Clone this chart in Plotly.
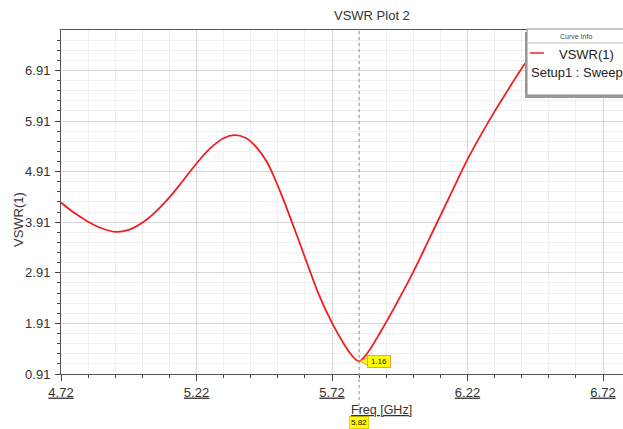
import plotly.graph_objects as go

# ---- data ----
freq_ghz = [4.72, 4.77, 4.82, 4.87, 4.92, 4.97, 5.02, 5.07, 5.12, 5.17, 5.22, 5.27,
            5.32, 5.36, 5.40, 5.44, 5.48, 5.53, 5.58, 5.63, 5.67, 5.72, 5.76, 5.79,
            5.82, 5.85, 5.90, 5.96, 6.02, 6.07, 6.12, 6.17, 6.22, 6.27, 6.32, 6.37,
            6.41, 6.44, 6.50, 6.56]
vswr = [4.30, 4.09, 3.92, 3.79, 3.72, 3.76, 3.90, 4.12, 4.40, 4.73, 5.07, 5.37,
        5.57, 5.63, 5.58, 5.40, 5.10, 4.50, 3.80, 3.07, 2.50, 1.92, 1.54, 1.30,
        1.16, 1.32, 1.75, 2.32, 2.93, 3.48, 4.04, 4.60, 5.15, 5.64, 6.10, 6.53,
        6.87, 7.10, 7.52, 7.90]
x_ticks = [4.72, 5.22, 5.72, 6.22, 6.72]
y_ticks = [0.91, 1.91, 2.91, 3.91, 4.91, 5.91, 6.91]
marker_freq = 5.82
marker_val = 1.16
title_text = "VSWR Plot 2"
x_title = "Freq [GHz]"
y_title = "VSWR(1)"
curve_name = "VSWR(1)"
curve_setup = "Setup1 : Sweep"

# ---- layout geometry (pixels) ----
W, H = 623, 429
L, R, T, B = 61, 623, 30, 374


def px(xp):
    return (xp - L) / (R - L)


def py(yp):
    return (B - yp) / (B - T)


FONT = "Liberation Sans, Arial, sans-serif"
TXT = "#333333"

fig = go.Figure()
fig.add_trace(go.Scatter(
    x=freq_ghz, y=vswr, mode="lines", name=curve_name,
    line=dict(color="#f01e23", width=1.8, shape="spline", smoothing=1.0),
    showlegend=False, hoverinfo="x+y",
))

shapes = []
annotations = []

# marker dashed line
shapes.append(dict(type="line", xref="x", yref="paper", x0=marker_freq, x1=marker_freq,
                   y0=py(418), y1=1, line=dict(color="#909090", width=1, dash="3px,3px")))
# callout tail
shapes.append(dict(type="path", xref="x", yref="y", xsizemode="pixel", ysizemode="pixel",
                   xanchor=marker_freq, yanchor=marker_val,
                   path="M1,0 L9,4 L9,-4 Z", fillcolor="#ffff00",
                   line=dict(color="#f0a040", width=1)))
annotations.append(dict(x=marker_freq, y=marker_val, xref="x", yref="y", xanchor="left",
                        yanchor="middle", xshift=8, showarrow=False,
                        text=str(marker_val), font=dict(family=FONT, size=8, color="#111"),
                        bgcolor="#ffff00", bordercolor="#f0a040", borderwidth=1,
                        borderpad=1, width=20))
annotations.append(dict(x=marker_freq, y=py(422.5), xref="x", yref="paper", xanchor="center",
                        yanchor="middle", showarrow=False, text=str(marker_freq),
                        font=dict(family=FONT, size=8, color="#111"),
                        bgcolor="#ffff00", bordercolor="#e8d000", borderwidth=1, borderpad=1))

# titles
annotations.append(dict(x=px(372), y=py(16), xref="paper", yref="paper", showarrow=False,
                        xanchor="center", yanchor="middle",
                        text=title_text, font=dict(family=FONT, size=13, color=TXT)))
annotations.append(dict(x=px(381), y=py(410), xref="paper", yref="paper", showarrow=False,
                        xanchor="center", yanchor="middle",
                        text="<u>" + x_title + "</u>", font=dict(family=FONT, size=12.5, color=TXT)))
annotations.append(dict(x=px(18), y=py(220), xref="paper", yref="paper", showarrow=False,
                        xanchor="center", yanchor="middle",
                        textangle=-90, text=y_title, font=dict(family=FONT, size=13, color=TXT)))

# curve info box (shadow + box)
shapes.append(dict(type="rect", xref="paper", yref="paper", x0=px(525), x1=px(630),
                   y0=py(98), y1=py(32), fillcolor="#9a9a9a", line=dict(width=0)))
shapes.append(dict(type="rect", xref="paper", yref="paper", x0=px(527), x1=px(628),
                   y0=py(95), y1=py(29), fillcolor="white", line=dict(color="#8a8a8a", width=1)))
shapes.append(dict(type="line", xref="paper", yref="paper", x0=px(527), x1=px(628),
                   y0=py(43), y1=py(43), line=dict(color="#c0c0c0", width=1)))
shapes.append(dict(type="line", xref="paper", yref="paper", x0=px(530), x1=px(544),
                   y0=py(53), y1=py(53), line=dict(color="#f01e23", width=1.5)))
annotations.append(dict(x=px(576), y=py(36.5), xref="paper", yref="paper", showarrow=False,
                        xanchor="center", yanchor="middle",
                        text="Curve Info", font=dict(family=FONT, size=7, color="#444")))
annotations.append(dict(x=px(557), y=py(54), xref="paper", yref="paper", showarrow=False,
                        xanchor="left", yanchor="middle",
                        text=curve_name, font=dict(family=FONT, size=13, color="#222")))
annotations.append(dict(x=px(529), y=py(72), xref="paper", yref="paper", showarrow=False,
                        xanchor="left", yanchor="middle",
                        text=curve_setup, font=dict(family=FONT, size=13, color="#222")))

fig.update_layout(
    width=W, height=H,
    margin=dict(l=L, r=W - R, t=T, b=H - B, pad=0),
    paper_bgcolor="white", plot_bgcolor="white",
    font=dict(family=FONT, size=12, color=TXT),
    shapes=shapes, annotations=annotations,
    showlegend=False,
)
x_end = 4.72 + (R - L) / 271.0
fig.update_xaxes(
    range=[4.72, x_end], tickvals=x_ticks,
    ticktext=["<u>%.2f</u>" % v for v in x_ticks],
    ticks="outside", ticklen=6, tickcolor="#444", tickwidth=1,
    showline=True, linecolor="#555", linewidth=1, mirror=True,
    showgrid=True, gridcolor="#d6d6d6", gridwidth=1,
    tickfont=dict(family=FONT, size=13, color=TXT),
    minor=dict(dtick=0.1, tick0=4.72, ticks="outside", ticklen=3, tickcolor="#444",
               showgrid=True, gridcolor="#efefef"),
    zeroline=False,
)
fig.update_yaxes(
    range=[0.91, 0.91 + (B - T) / 50.6], tickvals=y_ticks,
    ticktext=["%.2f" % v for v in y_ticks],
    ticks="outside", ticklen=5, tickcolor="#444", tickwidth=1,
    ticklabelstandoff=2,
    showline=True, linecolor="#555", linewidth=1,
    showgrid=True, gridcolor="#d6d6d6", gridwidth=1,
    tickfont=dict(family=FONT, size=13, color=TXT),
    minor=dict(dtick=0.2, tick0=0.91, ticks="outside", ticklen=3, tickcolor="#444",
               showgrid=True, gridcolor="#efefef"),
    zeroline=False,
)

fig.write_html("out.html", config={"displayModeBar": False},
               post_script="document.body.style.margin='0';document.body.style.overflow='hidden';")
